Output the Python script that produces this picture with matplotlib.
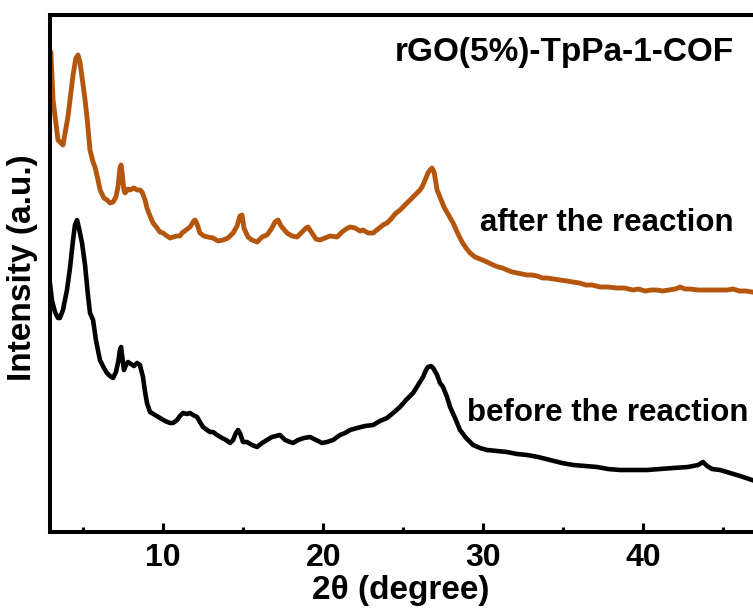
import numpy as np
import matplotlib
matplotlib.use('Agg')
import matplotlib.pyplot as plt
from matplotlib.ticker import MultipleLocator

plt.rcParams['font.family'] = ['Liberation Sans', 'DejaVu Sans']
plt.rcParams['font.weight'] = 'bold'

# 2theta (degree) and intensity (a.u.)
after_2theta = [2.98, 3.11, 3.42, 3.73, 4.04, 4.36, 4.54, 4.67, 4.79, 4.92, 5.11, 5.23, 5.36, 5.42,
                5.61, 5.73, 5.92, 6.05, 6.29, 6.48, 6.67, 6.86, 7.04, 7.17, 7.29, 7.36, 7.42, 7.54,
                7.61, 7.79, 7.92, 8.17, 8.36, 8.54, 8.67, 8.86, 8.98, 9.17, 9.36, 9.61, 9.79, 9.98,
                10.23, 10.42, 10.61, 10.86, 11.04, 11.17, 11.42, 11.67, 11.86, 11.98, 12.11, 12.29,
                12.54, 12.79, 13.11, 13.42, 13.73, 14.04, 14.36, 14.61, 14.79, 14.92, 15.04, 15.29,
                15.54, 15.86, 16.17, 16.48, 16.79, 16.98, 17.17, 17.36, 17.73, 18.04, 18.36, 18.67,
                18.92, 19.04, 19.29, 19.54, 19.79, 20.11, 20.42, 20.86, 21.17, 21.42, 21.67, 21.98,
                22.29, 22.48, 22.79, 23.11, 23.42, 23.73, 23.98, 24.23, 24.48, 24.79, 25.04, 25.29,
                25.61, 25.86, 26.04, 26.17, 26.36, 26.54, 26.67, 26.79, 26.92, 27.11, 27.29, 27.54,
                27.79, 28.11, 28.36, 28.67, 28.92, 29.17, 29.48, 29.79, 30.23, 30.61, 30.92, 31.2,
                31.48, 31.8, 32.1, 32.4, 32.73, 33.05, 33.36, 33.7, 33.98, 34.4, 34.8, 35.2, 35.61,
                36.0, 36.4, 36.8, 37.29, 37.8, 38.3, 38.8, 39.36, 39.7, 40.1, 40.5, 40.86, 41.2,
                41.6, 42.0, 42.29, 42.6, 42.9, 43.4, 43.98, 44.6, 45.23, 45.6, 46.0, 46.4, 46.79]
after_int = [479, 432, 392, 387, 415, 457, 474, 477, 470, 455, 432, 415, 392, 382,
             370, 365, 352, 342, 334, 332, 329, 330, 335, 345, 364, 367, 360, 342,
             339, 343, 342, 344, 342, 342, 340, 332, 324, 316, 309, 304, 300, 299,
             296, 294, 295, 296, 296, 299, 302, 305, 310, 312, 308, 299,
             296, 295, 294, 291, 292, 294, 299, 306, 316, 317, 304, 295,
             292, 290, 295, 297, 304, 310, 312, 306, 299, 296, 295, 300,
             304, 305, 299, 293, 292, 294, 296, 295, 300, 303, 305, 304,
             301, 302, 299, 299, 303, 307, 309, 313, 318, 322, 326, 330,
             335, 339, 342, 345, 352, 359, 362, 364, 360, 342, 335, 325,
             318, 309, 300, 290, 284, 279, 275, 273, 270, 267, 265, 264,
             262, 260, 259, 258, 257, 257, 256, 254, 254, 253, 252, 251, 250,
             249, 247, 247, 245, 245, 244, 244, 242, 243, 241, 242, 242, 241,
             242, 243, 245, 243, 243, 242, 242, 242, 242, 243, 241, 241, 240]

before_2theta = [2.93, 3.04, 3.23, 3.42, 3.54, 3.73, 3.98, 4.17, 4.36, 4.48, 4.61, 4.73, 4.92,
                 5.11, 5.29, 5.42, 5.61, 5.79, 6.04, 6.29, 6.48, 6.67, 6.86, 7.04, 7.17, 7.29,
                 7.36, 7.42, 7.54, 7.67, 7.79, 7.98, 8.17, 8.36, 8.54, 8.73, 8.86, 8.98, 9.17,
                 9.48, 9.79, 10.11, 10.42, 10.61, 10.86, 11.04, 11.23, 11.48, 11.67, 11.86, 12.11,
                 12.29, 12.48, 12.73, 12.92, 13.11, 13.36, 13.67, 13.92, 14.17, 14.36, 14.54, 14.67,
                 14.79, 14.98, 15.23, 15.54, 15.86, 16.17, 16.48, 16.79, 17.04, 17.29, 17.61, 17.92,
                 18.11, 18.42, 18.79, 19.17, 19.54, 19.92, 20.23, 20.61, 21.04, 21.36, 21.67, 22.11,
                 22.61, 23.11, 23.54, 23.98, 24.36, 24.79, 25.17, 25.61, 25.92, 26.23, 26.42, 26.54,
                 26.73, 26.86, 27.11, 27.29, 27.48, 27.73, 27.92, 28.23, 28.54, 28.92, 29.36, 29.79,
                 30.23, 30.86, 31.48, 32.11, 32.73, 33.42, 34.17, 34.92, 35.61, 36.36, 37.11, 37.79,
                 38.54, 39.36, 40.23, 41.04, 41.86, 42.79, 43.42, 43.73, 43.98, 44.29, 44.79, 45.42,
                 46.04, 46.79]
before_int = [247, 232, 220, 214, 214, 222, 242, 264, 292, 307, 312, 304, 289,
              267, 237, 219, 212, 192, 172, 164, 159, 156, 154, 160, 169, 182,
              185, 177, 162, 167, 170, 168, 166, 169, 167, 155, 140, 129, 120,
              117, 114, 111, 109, 109, 112, 116, 119, 118, 119, 117, 115,
              110, 105, 102, 100, 100, 97, 94, 92, 89, 92, 99, 102,
              99, 90, 90, 87, 85, 89, 92, 95, 96, 97, 92, 90,
              89, 92, 94, 95, 92, 89, 90, 92, 97, 99, 102, 104,
              106, 107, 111, 114, 119, 125, 132, 139, 147, 155, 162, 165,
              166, 164, 157, 149, 145, 135, 125, 114, 102, 94, 87, 84,
              82, 81, 80, 78, 77, 75, 72, 69, 67, 66, 65, 63,
              62, 62, 62, 63, 64, 65, 67, 70, 66, 63, 62, 59,
              56, 52]

after_label = 'after the reaction'
before_label = 'before the reaction'
title = 'rGO(5%)-TpPa-1-COF'

orange = '#B4560E'

fig = plt.figure(figsize=(7.53, 6.15), dpi=100)
ax = fig.add_axes([50 / 753, 83 / 615, 703 / 753, 517 / 615])

ax.plot(after_2theta, after_int, color=orange, lw=3.5, solid_joinstyle='round')
ax.plot(before_2theta, before_int, color='black', lw=3.3, solid_joinstyle='round')

ax.set_xlim(2.92, 46.85)
ax.set_ylim(0, 517)
ax.set_yticks([])
ax.xaxis.set_major_locator(MultipleLocator(10))
ax.xaxis.set_minor_locator(MultipleLocator(5))
ax.tick_params(axis='x', which='major', direction='in', length=6.5, width=2.2,
               labelsize=23, pad=8)
ax.tick_params(axis='x', which='minor', direction='in', length=3.5, width=2.2)
for lbl in ax.get_xticklabels():
    lbl.set_fontweight('bold')

for side in ('left', 'top', 'bottom'):
    ax.spines[side].set_linewidth(2.9)
ax.spines['right'].set_visible(False)

ax.set_xlabel('2θ (degree)', fontsize=24, fontweight='bold')
ax.xaxis.set_label_coords(0.4993, -0.084)
fig.text(23 / 753, 1 - 268 / 615, 'Intensity (a.u.)', rotation=90, ha='center',
         va='center', fontsize=24, fontweight='bold')

ax.text(0.491, 0.9265, title, transform=ax.transAxes, ha='left', va='center',
        fontsize=24, fontweight='bold')
ax.text(0.612, 0.598, after_label, transform=ax.transAxes, ha='left', va='center',
        fontsize=22.5, fontweight='bold')
ax.text(0.593, 0.230, before_label, transform=ax.transAxes, ha='left', va='center',
        fontsize=22.5, fontweight='bold')

fig.savefig('out.png', dpi=100)
